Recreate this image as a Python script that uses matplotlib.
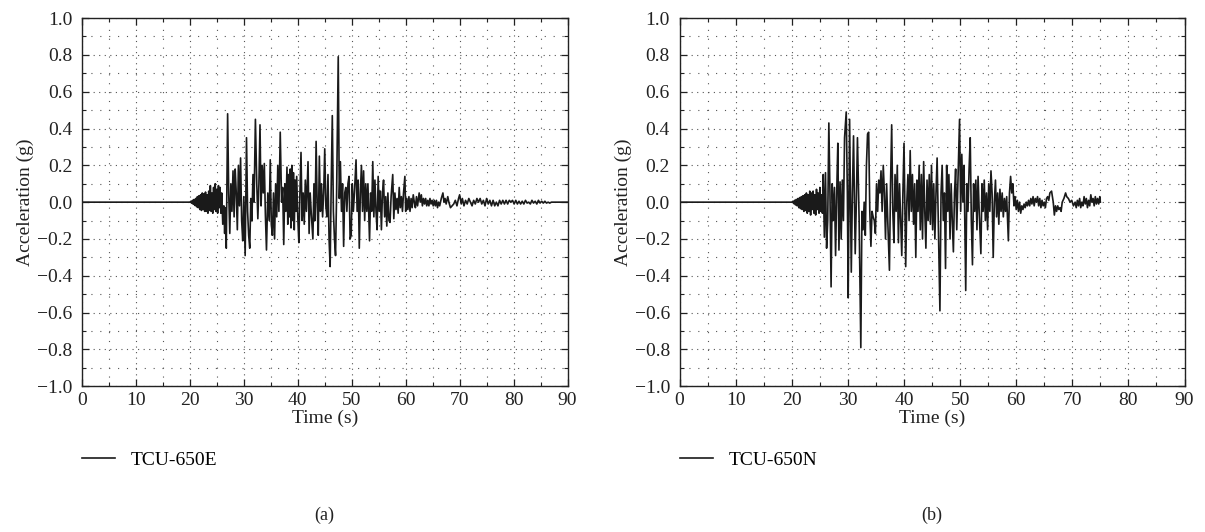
import matplotlib.pyplot as plt
from matplotlib.ticker import MultipleLocator

plt.rcParams['font.family'] = ['Liberation Serif', 'DejaVu Serif']

# (time s, acceleration g)
e_points = [
    (0.0, 0.0), (20.0, 0.0),
    (20.2, 0.005), (20.35, -0.006), (20.5, 0.01), (20.65, -0.012), (20.8, 0.015), (20.95, -0.018),
    (21.1, 0.02), (21.25, -0.025), (21.4, 0.03), (21.55, -0.03), (21.7, 0.035), (21.85, -0.04),
    (22.0, 0.04), (22.15, -0.045), (22.3, 0.05), (22.45, -0.04), (22.6, 0.045), (22.75, -0.05),
    (22.9, 0.055), (23.05, -0.05), (23.2, 0.04), (23.35, -0.06), (23.5, 0.06), (23.65, -0.045),
    (23.8, 0.09), (23.95, -0.05), (24.1, 0.05), (24.25, -0.06), (24.4, 0.08), (24.55, -0.04),
    (24.7, 0.1), (24.85, -0.05), (25.0, 0.07), (25.15, -0.06), (25.3, 0.09), (25.45, -0.03),
    (25.6, 0.08), (25.75, -0.06), (25.9, 0.05),
    (26.1, -0.12), (26.3, -0.02), (26.45, -0.17), (26.6, -0.03), (26.75, -0.25), (27.0, 0.48),
    (27.2, 0.05), (27.4, -0.17), (27.6, 0.1), (27.8, -0.05), (28.0, 0.17), (28.2, -0.08),
    (28.4, 0.18), (28.6, 0.05), (28.8, -0.15), (29.0, 0.2), (29.2, -0.02), (29.4, 0.24),
    (29.6, -0.1), (29.8, -0.21), (30.0, 0.03), (30.25, -0.29), (30.5, 0.35), (30.7, -0.05),
    (30.9, -0.18), (31.1, -0.25), (31.3, 0.02), (31.5, -0.1), (31.7, 0.15), (31.9, 0.0),
    (32.15, 0.45), (32.4, 0.1), (32.6, -0.09), (32.8, 0.1), (33.0, 0.42), (33.2, -0.02),
    (33.4, 0.2), (33.6, 0.05), (33.8, 0.21), (34.0, -0.07), (34.2, -0.26), (34.45, 0.05),
    (34.7, -0.1), (34.9, 0.23), (35.1, -0.12), (35.3, -0.18), (35.5, 0.05), (35.7, -0.2),
    (35.9, 0.1), (36.1, -0.08), (36.3, 0.2), (36.5, -0.05), (36.75, 0.38), (37.0, 0.0),
    (37.2, 0.08), (37.4, -0.23), (37.6, 0.1), (37.8, -0.05), (38.0, 0.19), (38.15, -0.12),
    (38.3, 0.15), (38.45, -0.08), (38.6, 0.18), (38.75, -0.14), (38.9, 0.2), (39.05, -0.1),
    (39.2, 0.16), (39.35, -0.15), (39.5, 0.12), (39.65, -0.05), (39.8, 0.14), (40.0, -0.08),
    (40.2, -0.22), (40.4, 0.05), (40.6, 0.27), (40.8, -0.1), (41.0, 0.05), (41.2, -0.12),
    (41.4, 0.12), (41.6, -0.05), (41.9, 0.22), (42.1, -0.17), (42.3, 0.05), (42.5, -0.06),
    (42.8, -0.2), (43.0, 0.1), (43.2, -0.1), (43.4, 0.33), (43.6, -0.02), (43.8, -0.18),
    (44.0, 0.25), (44.2, -0.05), (44.4, 0.1), (44.6, -0.08), (44.8, 0.05), (45.0, 0.29),
    (45.2, -0.02), (45.4, -0.08), (45.6, 0.15), (45.8, -0.2), (46.0, -0.35), (46.2, 0.1),
    (46.4, 0.47), (46.6, -0.05), (46.8, -0.2), (47.0, -0.29), (47.2, 0.05), (47.5, 0.79),
    (47.7, 0.02), (47.9, 0.22), (48.1, -0.05), (48.3, 0.1), (48.5, -0.24), (48.7, 0.05),
    (48.9, 0.08), (49.1, -0.05), (49.3, 0.1), (49.5, 0.14), (49.7, -0.2), (49.9, -0.18),
    (50.1, 0.1), (50.3, -0.05), (50.5, 0.05), (50.8, 0.23), (51.0, -0.05), (51.2, 0.12),
    (51.4, -0.25), (51.6, 0.05), (51.8, 0.2), (52.0, -0.05), (52.2, 0.17), (52.4, -0.1),
    (52.6, 0.1), (52.8, -0.05), (53.0, 0.1), (53.3, -0.21), (53.5, 0.05), (53.7, -0.05),
    (53.9, 0.22), (54.1, -0.08), (54.3, 0.12), (54.5, -0.05), (54.7, -0.15), (54.9, 0.14),
    (55.1, -0.05), (55.3, 0.06), (55.5, -0.15), (55.7, 0.05), (55.9, 0.12), (56.1, -0.08),
    (56.3, 0.03), (56.5, -0.13), (56.7, 0.05), (56.9, -0.1), (57.1, -0.11), (57.3, 0.03),
    (57.6, 0.15), (57.8, -0.09), (58.0, 0.05), (58.2, -0.04), (58.4, 0.02), (58.6, -0.06),
    (58.8, 0.08), (59.0, -0.03), (59.2, 0.03), (59.4, -0.05), (59.6, 0.05), (59.85, 0.14),
    (60.0, -0.05), (60.2, 0.02), (60.4, -0.04), (60.6, 0.03), (60.8, -0.05), (61.0, 0.02),
    (61.2, -0.03), (61.4, 0.04), (61.6, 0.0), (61.8, -0.03), (62.0, 0.03), (62.2, -0.02),
    (62.5, 0.05), (62.7, 0.0), (62.9, 0.04), (63.1, -0.02), (63.3, 0.02), (63.5, -0.01),
    (63.7, 0.02), (63.9, -0.02), (64.1, 0.01), (64.3, -0.02), (64.5, 0.02), (64.7, -0.01),
    (64.9, 0.01), (65.1, -0.02), (65.3, 0.01), (65.5, -0.02), (65.7, 0.01), (65.9, -0.03),
    (66.1, 0.0), (66.3, -0.02), (66.6, 0.02), (66.9, 0.05), (67.1, 0.0), (67.3, 0.02),
    (67.5, -0.01), (67.8, 0.03), (68.0, 0.0), (68.3, -0.03), (68.6, -0.02), (68.9, -0.01),
    (69.2, 0.01), (69.5, -0.02), (69.8, 0.02), (70.0, 0.04), (70.3, -0.01), (70.5, 0.02),
    (70.8, -0.02), (71.1, 0.01), (71.4, -0.01), (71.7, 0.02), (72.0, 0.0), (72.3, -0.02),
    (72.6, 0.01), (72.9, -0.01), (73.2, 0.02), (73.5, 0.0), (73.8, 0.02), (74.1, -0.01),
    (74.4, 0.01), (74.7, -0.02), (75.0, 0.02), (75.3, -0.01), (75.6, 0.01), (75.9, -0.02),
    (76.2, 0.01), (76.5, -0.02), (76.8, 0.0), (77.1, -0.02), (77.4, 0.01), (77.7, -0.01),
    (78.0, 0.01), (78.3, -0.01), (78.6, 0.01), (78.9, -0.01), (79.2, 0.01), (79.5, 0.0),
    (79.8, 0.01), (80.1, -0.01), (80.4, 0.01), (80.7, -0.01), (81.0, 0.005), (81.3, -0.01),
    (81.6, 0.005), (81.9, -0.01), (82.2, 0.01), (82.5, -0.005), (82.8, 0.0), (83.1, -0.01),
    (83.4, 0.01), (83.7, -0.005), (84.0, 0.005), (84.3, -0.01), (84.6, 0.01), (84.9, -0.005),
    (85.2, 0.005), (85.5, -0.005), (85.8, 0.005), (86.1, -0.005), (86.4, 0.0), (86.7, -0.005),
    (87.0, 0.0), (90.0, 0.0),
]

n_points = [
    (0.0, 0.0), (20.0, 0.0),
    (20.2, 0.005), (20.35, -0.008), (20.5, 0.01), (20.65, -0.015), (20.8, 0.015), (20.95, -0.02),
    (21.1, 0.02), (21.25, -0.03), (21.4, 0.025), (21.55, -0.035), (21.7, 0.03), (21.85, -0.04),
    (22.0, 0.035), (22.15, -0.05), (22.3, 0.04), (22.45, -0.045), (22.6, 0.05), (22.75, -0.06),
    (22.9, 0.04), (23.05, -0.05), (23.2, 0.06), (23.35, -0.07), (23.5, 0.05), (23.65, -0.04),
    (23.8, 0.06), (23.95, -0.06), (24.1, 0.04), (24.25, -0.07), (24.4, 0.07), (24.55, -0.04),
    (24.7, 0.05), (24.85, -0.06), (25.0, 0.08), (25.15, -0.05), (25.3, 0.04), (25.45, -0.06),
    (25.6, 0.15), (25.8, -0.19), (26.0, 0.16), (26.2, -0.25), (26.4, -0.1), (26.6, 0.43),
    (26.8, 0.05), (27.0, -0.46), (27.2, 0.1), (27.4, -0.1), (27.6, 0.08), (27.8, -0.29),
    (28.0, 0.05), (28.2, 0.32), (28.4, -0.26), (28.6, 0.11), (28.8, -0.2), (29.0, 0.12),
    (29.2, -0.1), (29.4, 0.35), (29.7, 0.49), (29.9, 0.05), (30.05, -0.52), (30.3, 0.45),
    (30.6, -0.38), (30.8, 0.05), (31.0, 0.36), (31.3, -0.28), (31.5, 0.0), (31.7, 0.35),
    (32.0, -0.1), (32.3, -0.79), (32.5, -0.05), (32.7, -0.15), (32.9, 0.0), (33.1, -0.18),
    (33.3, 0.2), (33.5, 0.37), (33.7, 0.38), (33.9, -0.05), (34.1, -0.24), (34.3, -0.05),
    (34.5, -0.08), (34.7, -0.1), (34.9, -0.17), (35.1, 0.1), (35.3, -0.05), (35.5, 0.12),
    (35.7, 0.05), (35.9, 0.17), (36.1, -0.05), (36.3, 0.2), (36.5, 0.05), (36.7, -0.2),
    (36.9, 0.1), (37.1, -0.1), (37.4, -0.37), (37.6, 0.1), (37.8, 0.42), (38.0, -0.05),
    (38.2, -0.22), (38.4, 0.15), (38.6, -0.05), (38.8, 0.2), (39.0, -0.22), (39.2, 0.1),
    (39.4, -0.1), (39.6, -0.29), (39.8, 0.05), (40.0, 0.32), (40.3, -0.35), (40.5, 0.0),
    (40.7, 0.15), (40.9, -0.1), (41.1, 0.28), (41.3, -0.05), (41.5, 0.15), (41.7, -0.12),
    (41.9, 0.1), (42.1, -0.3), (42.3, 0.12), (42.5, -0.05), (42.7, 0.2), (42.9, -0.15),
    (43.1, 0.15), (43.3, -0.2), (43.5, 0.22), (43.7, -0.05), (43.9, -0.25), (44.1, 0.12),
    (44.3, -0.1), (44.5, 0.15), (44.7, -0.12), (44.9, 0.2), (45.1, -0.15), (45.3, 0.1),
    (45.5, -0.2), (45.7, 0.05), (45.9, 0.24), (46.1, -0.1), (46.4, -0.59), (46.6, 0.05),
    (46.8, 0.2), (47.0, -0.1), (47.2, 0.05), (47.4, -0.36), (47.6, 0.2), (47.8, -0.05),
    (48.0, 0.15), (48.2, -0.2), (48.4, 0.1), (48.6, -0.1), (48.8, -0.27), (49.0, 0.05),
    (49.2, 0.18), (49.4, -0.15), (49.6, 0.1), (49.9, 0.45), (50.1, -0.05), (50.3, 0.26),
    (50.5, 0.0), (50.7, 0.2), (51.0, -0.48), (51.2, 0.1), (51.4, -0.05), (51.6, 0.18),
    (51.8, 0.35), (52.0, -0.1), (52.2, -0.34), (52.4, 0.1), (52.6, -0.05), (52.8, 0.12),
    (53.0, -0.15), (53.2, 0.14), (53.4, -0.05), (53.7, -0.28), (53.9, 0.1), (54.1, -0.05),
    (54.3, 0.12), (54.5, -0.1), (54.7, 0.05), (54.9, -0.15), (55.1, 0.1), (55.3, -0.05),
    (55.5, 0.17), (55.7, 0.05), (55.9, -0.3), (56.1, 0.0), (56.3, 0.12), (56.5, -0.08),
    (56.7, 0.05), (56.9, -0.12), (57.1, 0.07), (57.3, -0.05), (57.5, 0.05), (57.7, -0.08),
    (57.9, 0.02), (58.1, -0.05), (58.3, 0.03), (58.6, -0.21), (58.8, 0.05), (59.0, 0.14),
    (59.2, 0.05), (59.4, 0.1), (59.6, -0.02), (59.8, 0.03), (60.0, -0.04), (60.2, 0.01),
    (60.4, -0.05), (60.6, 0.0), (60.8, -0.06), (61.0, -0.02), (61.2, -0.04), (61.4, -0.01),
    (61.6, -0.03), (61.8, 0.0), (62.0, -0.02), (62.2, 0.01), (62.4, -0.02), (62.6, 0.02),
    (62.8, -0.01), (63.0, 0.03), (63.2, -0.02), (63.4, 0.02), (63.6, 0.0), (63.8, 0.03),
    (64.0, -0.02), (64.2, 0.02), (64.4, -0.03), (64.6, 0.01), (64.8, -0.02), (65.0, 0.0),
    (65.2, -0.03), (65.4, 0.02), (65.6, 0.03), (65.8, 0.01), (66.0, 0.05), (66.3, 0.06),
    (66.6, 0.0), (66.8, -0.07), (67.0, -0.02), (67.2, -0.05), (67.4, -0.02), (67.6, -0.04),
    (67.8, -0.03), (68.0, -0.05), (68.2, 0.0), (68.5, 0.02), (68.8, 0.05), (69.0, 0.03),
    (69.3, 0.02), (69.6, 0.0), (69.9, 0.01), (70.2, -0.02), (70.5, 0.0), (70.7, -0.03),
    (70.9, 0.01), (71.1, -0.02), (71.3, 0.02), (71.5, -0.03), (71.7, 0.0), (71.9, -0.02),
    (72.1, 0.03), (72.3, -0.01), (72.5, 0.02), (72.7, -0.03), (72.9, 0.01), (73.1, -0.02),
    (73.3, 0.04), (73.5, 0.0), (73.7, 0.02), (73.9, -0.02), (74.1, 0.03), (74.3, -0.01),
    (74.5, 0.02), (74.7, -0.01), (74.9, 0.03), (75.0, 0.0),
]

e_time = [p[0] for p in e_points]
e_acc = [p[1] for p in e_points]
n_time = [p[0] for p in n_points]
n_acc = [p[1] for p in n_points]

names = ['TCU-650E', 'TCU-650N']
captions = ['(a)', '(b)']

fig = plt.figure(figsize=(12.05, 5.32), dpi=100)
ax1 = fig.add_axes([0.068, 0.274, 0.403, 0.692])
ax2 = fig.add_axes([0.564, 0.274, 0.419, 0.692])


def style(ax):
    ax.set_xlim(0, 90)
    ax.set_ylim(-1.0, 1.0)
    ax.xaxis.set_major_locator(MultipleLocator(10))
    ax.xaxis.set_minor_locator(MultipleLocator(5))
    ax.yaxis.set_major_locator(MultipleLocator(0.2))
    ax.yaxis.set_minor_locator(MultipleLocator(0.1))
    ax.yaxis.set_major_formatter(lambda v, pos: ('%.1f' % v).replace('-', '\u2212'))
    ax.tick_params(which='both', direction='in', top=True, right=True, labelsize=14, colors='#222222')
    ax.tick_params(which='major', length=5, width=0.9)
    ax.tick_params(which='minor', length=3, width=0.8)
    ax.tick_params(axis='x', which='major', pad=4)
    ax.tick_params(axis='y', which='major', pad=7)
    ax.grid(which='major', color='#555555', linestyle=(0, (1, 4)), linewidth=0.8)
    ax.grid(which='minor', color='#555555', linestyle=(0, (1, 7)), linewidth=0.8)
    for s in ax.spines.values():
        s.set_linewidth(1.0)
        s.set_color('#222222')
    ax.set_xlabel('Time (s)', fontsize=14, color='#222222', labelpad=1)
    ax.set_ylabel('Acceleration (g)', fontsize=14, color='#222222', labelpad=2)


for ax, t, a, name, cap in [(ax1, e_time, e_acc, names[0], captions[0]),
                            (ax2, n_time, n_acc, names[1], captions[1])]:
    line, = ax.plot(t, a, color='#1a1a1a', linewidth=1.2, label=name)
    style(ax)
    pos = ax.get_position()
    fig.legend(handles=[line], loc='center left', bbox_to_anchor=(pos.x0, 0.135),
               frameon=False, fontsize=14, handlelength=1.7, handletextpad=0.8,
               borderpad=0, borderaxespad=0)
    fig.text((pos.x0 + pos.x1) / 2, 0.032, cap, ha='center', va='center', fontsize=13, color='#222222')

plt.savefig('out.png', dpi=100)
